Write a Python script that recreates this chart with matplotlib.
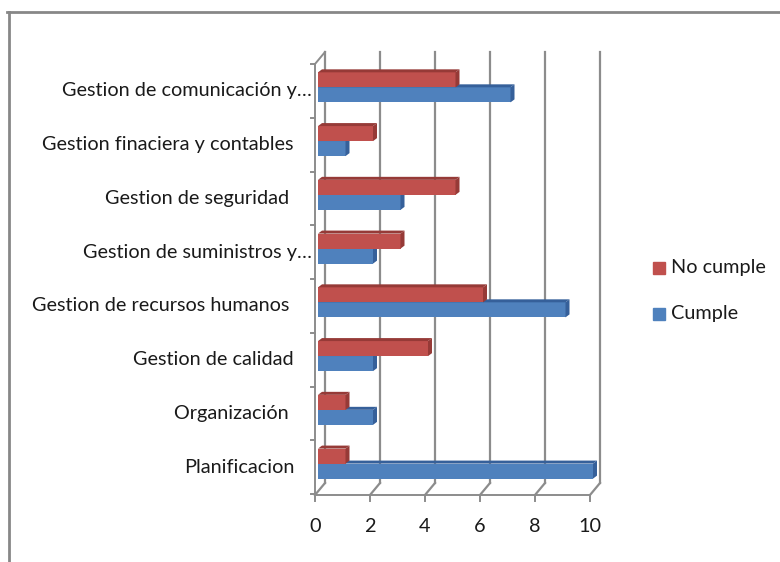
import matplotlib.pyplot as plt
from matplotlib.patches import Polygon, Rectangle
from matplotlib.lines import Line2D

# datos (de abajo hacia arriba)
categorias = ['Planificacion', 'Organización ', 'Gestion de calidad',
              'Gestion de recursos humanos ', 'Gestion de suministros y…',
              'Gestion de seguridad ', 'Gestion finaciera y contables',
              'Gestion de comunicación y…']
cumple = [10, 2, 2, 9, 2, 3, 1, 7]
no_cumple = [1, 1, 4, 6, 3, 5, 2, 5]
ticks_x = [0, 2, 4, 6, 8, 10]

plt.rcParams['font.family'] = ['Lato', 'DejaVu Sans']
FS = 14.3

W, H = 780, 562
fig = plt.figure(figsize=(W / 100, H / 100), dpi=100)
ax = fig.add_axes([318 / W, (H - 494) / H, 275 / W, 430 / H])
ax.set_xlim(0, 10)
ax.set_ylim(-0.5, 7.5)
ax.axis('off')

UX, UY = 27.5, 53.75   # pixeles por unidad
dx, dy = 4 / UX, 3 / UY
grid_c = '#8c8c8c'

# pared del fondo: lineas de cuadricula + suelo
for v in ticks_x:
    xb = v + 7 / UX
    xf = v - 3 / UX
    ax.plot([xb, xb], [7.5 + 12 / UY, -0.5 + 11 / UY], color=grid_c, lw=1.6,
            clip_on=False, zorder=1)
    ax.plot([xb, xf], [-0.5 + 11 / UY, -0.5 - 1 / UY], color=grid_c, lw=1.6,
            clip_on=False, zorder=1)
    ax.plot([xf, xf], [-0.5 - 1 / UY, -0.5 - 7 / UY], color=grid_c, lw=1.4,
            clip_on=False, zorder=1)
    ax.text(xf, -0.5 - 33 / UY, str(v), ha='center', va='center', fontsize=FS,
            color='#1a1a1a')

# eje frontal inferior y eje izquierdo
x0 = -3 / UX
ax.plot([x0, 10 - 3 / UX], [-0.5 - 1 / UY] * 2, color=grid_c, lw=1.4, clip_on=False)
ax.plot([x0, x0], [-0.5 - 1 / UY, 7.5], color=grid_c, lw=1.4, clip_on=False)
ax.plot([x0, 7 / UX], [7.5, 7.5 + 12 / UY], color=grid_c, lw=1.4, clip_on=False)
for i in range(len(categorias) + 1):
    ax.plot([x0 - 4 / UX, x0], [i - 0.5, i - 0.5], color=grid_c, lw=1.4,
            clip_on=False)

h = 0.28


def barra(y, v, color, lado, z):
    ax.barh(y, v, height=h, color=color, zorder=z, clip_on=False)
    top, bot = y + h / 2, y - h / 2
    ax.add_patch(Polygon([(0, top), (v, top), (v + dx, top + dy), (dx, top + dy)],
                         closed=True, color=lado, zorder=z, lw=0, clip_on=False))
    ax.add_patch(Polygon([(v, bot), (v, top), (v + dx, top + dy), (v + dx, bot + dy)],
                         closed=True, color=lado, zorder=z, lw=0, clip_on=False))


for i, (c, n) in enumerate(zip(cumple, no_cumple)):
    barra(i - 0.074, c, '#4F81BD', '#36609A', 3)
    barra(i + 0.205, n, '#C0504D', '#963A37', 4)

# etiquetas de categorias
for i, lab in enumerate(categorias):
    xr = 312 if lab.endswith('…') else 294
    ax.text((xr - 318) / UX, i, lab, ha='right', va='center', fontsize=FS,
            color='#1a1a1a')

# leyenda
for k, (lab, col) in enumerate([('No cumple', '#C0504D'), ('Cumple', '#4F81BD')]):
    yc = 268 + 46 * k
    fig.patches.append(Rectangle((653 / W, (H - yc - 6) / H), 12 / W, 12 / H,
                                 color=col, transform=fig.transFigure))
    fig.text(671 / W, (H - yc) / H, lab, ha='left', va='center', fontsize=FS,
             color='#1a1a1a')

# marco
fig.add_artist(Line2D([7 / W, 1], [(H - 12) / H] * 2, color='#878787', lw=2,
                      transform=fig.transFigure))
fig.add_artist(Line2D([9 / W, 9 / W], [(H - 12) / H, 0], color='#878787', lw=2,
                      transform=fig.transFigure))

fig.savefig('out.png', dpi=100)
